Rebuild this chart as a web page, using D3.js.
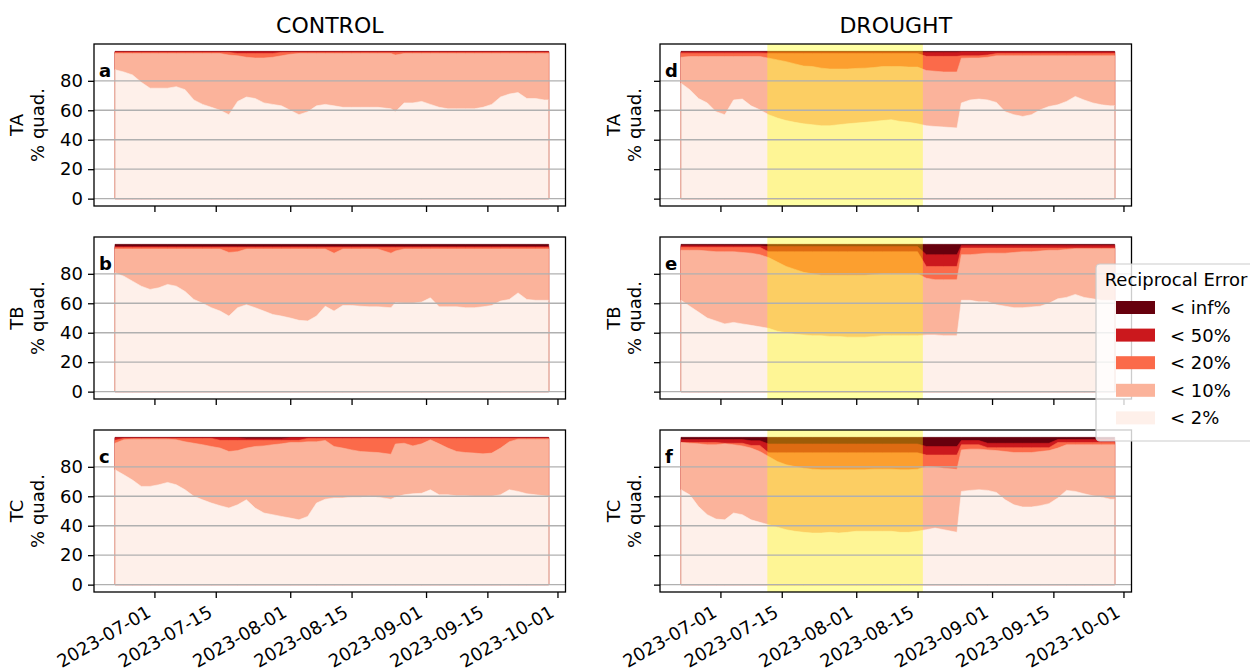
<!DOCTYPE html>
<html><head><meta charset="utf-8">
<script src="https://cdn.jsdelivr.net/npm/d3@7"></script>
<style>
body{margin:0;background:#fff;}
svg{display:block;font-family:"DejaVu Sans",sans-serif;}
</style></head><body>
<svg id="chart" width="1250" height="671"></svg>
<script>
// ---------------- data ----------------
const dates = ["06-22","06-24","06-26","06-28","06-30","07-02","07-04","07-06","07-08","07-10",
"07-12","07-14","07-16","07-18","07-20","07-22","07-24","07-26","07-28","07-30",
"08-01","08-03","08-05","08-07","08-09","08-11","08-13","08-15","08-17","08-19",
"08-21","08-24","08-25","08-27","08-29","08-31","09-02","09-04","09-06","09-08",
"09-10","09-12","09-14","09-16","09-18","09-20","09-22","09-24","09-26","09-28","09-29"];

const tickLabels = ["2023-07-01","2023-07-15","2023-08-01","2023-08-15","2023-09-01","2023-09-15","2023-10-01"];
const yTicks = [0,20,40,60,80];
const droughtSpan = ["2023-07-11T17","2023-08-16T05"];
const columnTitles = ["CONTROL","DROUGHT"];
const rowLabels = ["TA","TB","TC"];
const panelLetters = ["a","b","c","d","e","f"];
const legendLabels = ["< inf%","< 50%","< 20%","< 10%","< 2%"];
const legendTitle = "Reciprocal Error";

// cumulative % of quadrats with reciprocal error below each threshold
const ltInf = [100,100,100,100,100,100,100,100,100,100,100,100,100,100,100,100,100,100,100,100,100,100,100,100,100,100,100,100,100,100,100,100,100,100,100,100,100,100,100,100,100,100,100,100,100,100,100,100,100,100,100];

// CONTROL TA
const ctrlTA_lt2  = [87.5,86,84,79,75,75,75,76,74,67,64,62,60,57,66,69,68,65,64,63,60,57,59,63,64,63,62,62,62,62,62,61,59,65,65,66,64,62,61,61,61,61,62,64,69,71,72,68,68,67,67];
const ctrlTA_lt10 = [98.5,98.5,98.5,98.5,98.5,98.5,98.5,98.5,98.5,98.5,98.5,98.5,98.5,97.5,97,96,95.5,95.5,96,97,98,98.5,98.5,98.5,98.5,98.5,98.5,98.5,98.5,98.5,98.5,98.5,97.5,98.5,98.5,98.5,98.5,98.5,98.5,98.5,98.5,98.5,98.5,98.5,98.5,98.5,98.5,98.5,98.5,98.5,98.5];
const ctrlTA_lt20 = [99.3,99.3,99.3,99.3,99.3,99.3,99.3,99.3,99.3,99.3,99.3,99.3,99.3,99.3,98.5,98.5,98.5,98.5,98.5,99.3,99.3,99.3,99.3,99.3,99.3,99.3,99.3,99.3,99.3,99.3,99.3,99.3,99.3,99.3,99.3,99.3,99.3,99.3,99.3,99.3,99.3,99.3,99.3,99.3,99.3,99.3,99.3,99.3,99.3,99.3,99.3];
const ctrlTA_lt50 = [99.7,99.7,99.7,99.7,99.7,99.7,99.7,99.7,99.7,99.7,99.7,99.7,99.7,99.7,99.7,99.7,99.7,99.7,99.7,99.7,99.7,99.7,99.7,99.7,99.7,99.7,99.7,99.7,99.7,99.7,99.7,99.7,99.7,99.7,99.7,99.7,99.7,99.7,99.7,99.7,99.7,99.7,99.7,99.7,99.7,99.7,99.7,99.7,99.7,99.7,99.7];

// CONTROL TB
const ctrlTB_lt2  = [80.7,78.4,75,71.6,69.4,70.5,72.8,71.6,68,62.6,60,57,54.7,51.3,57,59,57,54.7,52.4,51.3,50,48.4,48,51.3,58,54.7,58.5,58.5,58,57.6,57.6,57,60.3,60,60,60.8,63.7,57.6,57.6,57.6,57,57,57.6,58.5,61.5,62.6,67,62.6,62,62,62];
const ctrlTB_lt10 = [96.8,96.8,96.8,96.8,96.8,96.8,96.8,96.8,96.8,96.8,96.8,96.8,96.8,94.5,95,96.8,96.8,96.8,96.8,96.8,96.8,96.8,96.8,96.8,96.8,94,96.8,96.8,96.8,96.8,96.8,94,95.5,96.8,96.8,96.8,96.8,96.8,96.8,96.8,96.8,96.8,96.8,96.8,96.8,96.8,96.8,96.8,96.8,96.8,96.8];
const ctrlTB_lt20 = [97.8,97.8,97.8,97.8,97.8,97.8,97.8,97.8,97.8,97.8,97.8,97.8,97.8,97.8,97.8,97.8,97.8,97.8,97.8,97.8,97.8,97.8,97.8,97.8,97.8,97.8,97.8,97.8,97.8,97.8,97.8,97.8,97.8,97.8,97.8,97.8,97.8,97.8,97.8,97.8,97.8,97.8,97.8,97.8,97.8,97.8,97.8,97.8,97.8,97.8,97.8];
const ctrlTB_lt50 = [98.6,98.6,98.6,98.6,98.6,98.6,98.6,98.6,98.6,98.6,98.6,98.6,98.6,98.6,98.6,98.6,98.6,98.6,98.6,98.6,98.6,98.6,98.6,98.6,98.6,98.6,98.6,98.6,98.6,98.6,98.6,98.6,98.6,98.6,98.6,98.6,98.6,98.6,98.6,98.6,98.6,98.6,98.6,98.6,98.6,98.6,98.6,98.6,98.6,98.6,98.6];

// CONTROL TC
const ctrlTC_lt2  = [78,74.6,71,66.7,66.7,67.8,69.4,67.8,64.4,60,57.6,55.4,53.6,52,54.2,57.6,52,48.6,47.5,46.3,45.2,44,46.3,55.4,58,58.8,58.8,59.4,59.4,60,59.4,58,59.4,61,61.7,62,64.4,61,61,60.3,60.3,60,60,60,61,64.4,63.3,61.7,61,60.3,60];
const ctrlTC_lt10 = [96,98.3,98.8,98.8,98.8,98.8,98.8,98.3,97,96,95,93.8,92.7,90.4,91,92.7,93.8,94.2,95,95.6,96.5,96.5,97,97,97.9,93.8,92.7,91.5,90.4,90,89.7,88.5,95.5,96,94.2,95.6,98.3,95.6,92.7,90.4,89.7,89.3,88.8,89.3,92.7,97,98.8,98.8,98.8,98.8,98.8];
const ctrlTC_lt20 = [98,99.3,99.3,99.3,99.3,99.3,99.3,99.3,99.3,99.3,99.3,99.3,98,98,98,98,98,98,98,98,98,98,99.3,99.3,99.3,99.3,99.3,99.3,99.3,99.3,99.3,99.3,99.3,99.3,99.3,99.3,99.3,99.3,99.3,99.3,99.3,99.3,99.3,99.3,99.3,99.3,99.3,99.3,99.3,99.3,99.3];
const ctrlTC_lt50 = [99.7,99.7,99.7,99.7,99.7,99.7,99.7,99.7,99.7,99.7,99.7,99.7,99.7,99.7,99.7,99,99,99,99,99,99.7,99.7,99.7,99.7,99.7,99.7,99.7,99.7,99.7,99.7,99.7,99.7,99.7,99.7,99.7,99.7,99.7,99.7,99.7,99.7,99.7,99.7,99.7,99.7,99.7,99.7,99.7,99.7,99.7,99.7,99.7];

// DROUGHT TA
const drTA_lt2  = [78.4,74,68,65,59,57,67,67.6,63,60.3,57,54.7,53,51.8,50.8,50.2,49.5,49.5,50.2,50.8,51.3,51.8,52.4,53,53.6,52.4,51.8,50.8,49.5,49,48.6,48,65,67,67.6,67,65.3,59,57,55.8,57,60.3,62.6,63.7,66,69.4,67,65,63.7,63,63];
const drTA_lt10 = [96,96.5,96.5,96.5,96.5,96.5,96.5,96.5,96.5,96.5,95.4,94.2,93,91.5,90,89.7,88.6,88,88,88,88.4,88.6,89,89.7,89.7,89.7,89.3,89.3,87,86.5,86,86,95.4,95.5,95.5,96,97,97,97,97,97,97,97,97,97,97,97,97,97,97,97];
const drTA_lt20 = [98.8,98.8,98.8,98.8,98.8,98.8,98.8,98.8,98.8,98.8,98.5,98.5,98.5,98.5,98.5,98.5,98.5,98.5,98.5,98.5,98.5,98.5,98.5,98.5,98.5,98.5,98.5,98.5,96.6,96.6,96.6,96.6,97,97,97,97.5,98.5,98.5,98.5,98.5,98.5,98.5,98.5,98.5,98.5,98.5,98.5,98.5,98.5,98.5,98.5];
const drTA_lt50 = [99.6,99.6,99.6,99.6,99.6,99.6,99.6,99.6,99.6,99.6,99.6,99.6,99.6,99.6,99.6,99.6,99.6,99.6,99.6,99.6,99.6,99.6,99.6,99.6,99.6,99.6,99.6,99.6,99.2,99.2,99.2,99.2,99.6,99.6,99.6,99.6,99.6,99.6,99.6,99.6,99.6,99.6,99.6,99.6,99.6,99.6,99.6,99.6,99.6,99.6,99.6];

// DROUGHT TB
const drTB_lt2  = [62,58,54,50,48,46,47,46,45,44,43,41,40,39,38.5,38,38,37.5,37.5,37,37,37,37.5,38,38,38,38,38,38.5,38.5,38,38,62,62,61,61,59,58,57,57,57.5,58,60,63,64,66,64,63,62,62,62];
const drTB_lt10 = [96,96,96,95.5,95,95,95,94.5,94,93,91,88,85,83,81,80,79,79,79,79,79,79,79.5,80,80,80,80,80,77,76,76,76,93,93,93.5,94,94,94,94.5,95,95,95.5,96,96,96.5,97,97,97,97,97,97];
const drTB_lt20 = [98,98,98,98,98,98,98,98,98,98,95,95,95,95,95,95,95,95,95,95,95,95,95,95,95,95,95,95,85,85,85,85,97.5,97.5,97.5,97.5,97.5,97.5,97.5,97.5,97.5,97.5,97.5,97.5,97.5,97.5,97.5,97.5,97.5,97.5,97.5];
const drTB_lt50 = [99,99,99,99,99,99,99,99,99,99,98.5,98.5,98.5,98.5,98.5,98.5,98.5,98.5,98.5,98.5,98.5,98.5,98.5,98.5,98.5,98.5,98.5,98.5,93,93,93,93,99.3,99.3,99.3,99.3,99.3,99.3,99.3,99.3,99.3,99.3,99.3,99.3,99.3,99.3,99.3,99.3,99.3,99.3,99.3];

// DROUGHT TC
const drTC_lt2  = [64.4,61,53,47.5,44.5,44,48.6,47.5,44,42.3,40.7,39,37.3,36.2,35.5,35,35,35.5,35,35.5,36.2,36.2,36.2,36.2,36.2,35.5,35.5,36.2,37.3,38.4,37.3,35.5,63.3,64,64.4,64,62.6,57.6,54.2,52.7,52.7,53.6,55,58.8,64,63.3,61.7,60.3,59.4,58,58];
const drTC_lt10 = [96.5,96,95.6,95,95,95.6,95,94.2,92.7,90.4,87,83.6,81.4,80.2,79,78.4,78,78,78,78,78,78,78.4,78.4,78.4,78,78,78.4,80.2,79.8,79,78.4,91.5,92,92,91.5,91,90.4,89.7,89.7,89.7,90.4,91,92.7,95,95,95,95,95,95,95];
const drTC_lt20 = [96.5,96.5,96.5,96.5,96.5,96,96,96,94.5,94.5,89.5,89.5,89.5,89.5,89.5,89.5,89.5,89.5,89.5,89.5,89.5,89.5,89.5,89.5,89.5,89.5,89.5,89.5,88,88,88,88,95,95,95,93,93,93,93,93,93,93,93,96.5,96.5,96.5,96.5,96.5,96.5,96.5,96.5];
const drTC_lt50 = [98.5,98.5,98.5,98.5,98.5,98.5,98.5,98.5,97.7,97.7,95.5,95.5,95.5,95.5,95.5,95.5,95.5,95.5,95.5,95.5,95.5,95.5,95.5,95.5,95.5,95.5,95.5,95.5,93.8,93.8,93.8,93.8,97.8,97.8,97.8,96,96,96,96,96,96,96,96,98.5,98.5,98.5,98.5,98.5,98.5,98.5,98.5];

const colors = ["#67000d","#cb181d","#fb6a4a","#fbb39b","#fef0ea"];

// ---------------- layout ----------------
const svg = d3.select("#chart");
const parseDay = d3.utcParse("%Y-%m-%d");
const parseHour = d3.utcParse("%Y-%m-%dT%H");
const X = dates.map(s => parseDay("2023-" + s));
const tickDates = tickLabels.map(parseDay);

const colLeft = [94, 660], colWidth = 471.5;
const rowTop = [44, 237, 430], rowH = 162;
const FS = 18;

const panels = [
  {col:0,row:0,s:[ltInf,ctrlTA_lt50,ctrlTA_lt20,ctrlTA_lt10,ctrlTA_lt2]},
  {col:0,row:1,s:[ltInf,ctrlTB_lt50,ctrlTB_lt20,ctrlTB_lt10,ctrlTB_lt2]},
  {col:0,row:2,s:[ltInf,ctrlTC_lt50,ctrlTC_lt20,ctrlTC_lt10,ctrlTC_lt2]},
  {col:1,row:0,s:[ltInf,drTA_lt50,drTA_lt20,drTA_lt10,drTA_lt2]},
  {col:1,row:1,s:[ltInf,drTB_lt50,drTB_lt20,drTB_lt10,drTB_lt2]},
  {col:1,row:2,s:[ltInf,drTC_lt50,drTC_lt20,drTC_lt10,drTC_lt2]}
];

panels.forEach((p, pi) => {
  const x0 = colLeft[p.col], y0 = rowTop[p.row];
  const x = d3.scaleUtc().domain([parseHour("2023-06-17T05"), parseHour("2023-10-02T20")]).range([x0, x0 + colWidth]);
  const y = d3.scaleLinear().domain([-5, 105]).range([y0 + rowH, y0]);
  const g = svg.append("g");

  const area = d3.area().x((d, i) => x(X[i])).y0(y(0)).y1(d => y(d));
  p.s.forEach((ser, k) => {
    g.append("path").attr("d", area(ser)).attr("fill", colors[k])
      .attr("stroke", colors[k]).attr("stroke-width", 0.6);
  });
  // edges of the lowest layer
  const last = X.length - 1;
  [[X[0], p.s[4][0]], [X[last], p.s[4][last]]].forEach(([d, v]) => {
    g.append("line").attr("x1", x(d)).attr("x2", x(d)).attr("y1", y(0)).attr("y2", y(v))
      .attr("stroke", "#e6b4a6").attr("stroke-width", 1);
  });

  // drought highlight
  if (p.col === 1) {
    const a = parseHour(droughtSpan[0]), b = parseHour(droughtSpan[1]);
    g.append("rect").attr("x", x(a)).attr("width", x(b) - x(a))
      .attr("y", y0).attr("height", rowH).attr("fill", "#ffff00").attr("fill-opacity", 0.36);
  }

  // grid
  yTicks.forEach(t => {
    g.append("line").attr("x1", x0).attr("x2", x0 + colWidth).attr("y1", y(t)).attr("y2", y(t))
      .attr("stroke", "#b0b0b0").attr("stroke-width", 1.3);
  });

  // axes
  const ya = d3.axisLeft(y).tickValues(yTicks).tickSize(6).tickPadding(5)
    .tickFormat(p.col === 0 ? d3.format("d") : () => "");
  const gy = g.append("g").attr("transform", `translate(${x0},0)`).call(ya);
  const xa = d3.axisBottom(x).tickValues(tickDates).tickSize(6).tickFormat(() => "");
  const gx = g.append("g").attr("transform", `translate(0,${y0 + rowH})`).call(xa);
  [gy, gx].forEach(ax => {
    ax.select(".domain").remove();
    ax.selectAll(".tick line").attr("stroke", "#000").attr("stroke-width", 1.3);
    ax.selectAll("text").attr("font-size", FS).attr("fill", "#000").attr("font-family", "DejaVu Sans");
  });

  if (p.row === 2) {
    tickDates.forEach((d, i) => {
      g.append("text")
        .attr("transform", `translate(${x(d) - 9},${y0 + rowH + 12})rotate(-30)`)
        .attr("text-anchor", "end").attr("dy", "0.76em")
        .attr("font-size", FS).attr("fill", "#000").text(tickLabels[i]);
    });
  }

  // box
  g.append("rect").attr("x", x0).attr("y", y0).attr("width", colWidth).attr("height", rowH)
    .attr("fill", "none").attr("stroke", "#000").attr("stroke-width", 1.3);

  // panel letter
  g.append("text").attr("x", x0 + 5).attr("y", y0 + 33).attr("font-size", FS)
    .attr("font-weight", "bold").attr("fill", "#000").text(panelLetters[pi]);

  // y label (two lines)
  const lx = p.col === 0 ? 44 : 641;
  const cy = y0 + rowH / 2;
  const yl = g.append("text").attr("transform", `translate(${lx},${cy})rotate(-90)`)
    .attr("text-anchor", "middle").attr("font-size", FS).attr("fill", "#000");
  yl.append("tspan").attr("x", 0).attr("y", -21).text(rowLabels[p.row]);
  yl.append("tspan").attr("x", 0).attr("y", 0).text("% quad.");

  if (p.row === 0) {
    svg.append("text").attr("x", x0 + colWidth / 2).attr("y", 33).attr("text-anchor", "middle")
      .attr("font-size", 22).attr("fill", "#000").text(columnTitles[p.col]);
  }
});

// legend
const lg = svg.append("g");
lg.append("rect").attr("x", 1096).attr("y", 264).attr("width", 162).attr("height", 177).attr("rx", 4)
  .attr("fill", "#fff").attr("fill-opacity", 0.8).attr("stroke", "#cccccc").attr("stroke-width", 1.2);
lg.append("text").attr("x", 1176).attr("y", 286).attr("text-anchor", "middle")
  .attr("font-size", FS).attr("fill", "#000").text(legendTitle);
legendLabels.forEach((lab, i) => {
  const cy = 307.5 + i * 27.6;
  lg.append("rect").attr("x", 1116).attr("y", cy - 6.5).attr("width", 39).attr("height", 13).attr("fill", colors[i]);
  lg.append("text").attr("x", 1170).attr("y", cy + 6.5).attr("font-size", FS).attr("fill", "#000").text(lab);
});
</script>
</body></html>
